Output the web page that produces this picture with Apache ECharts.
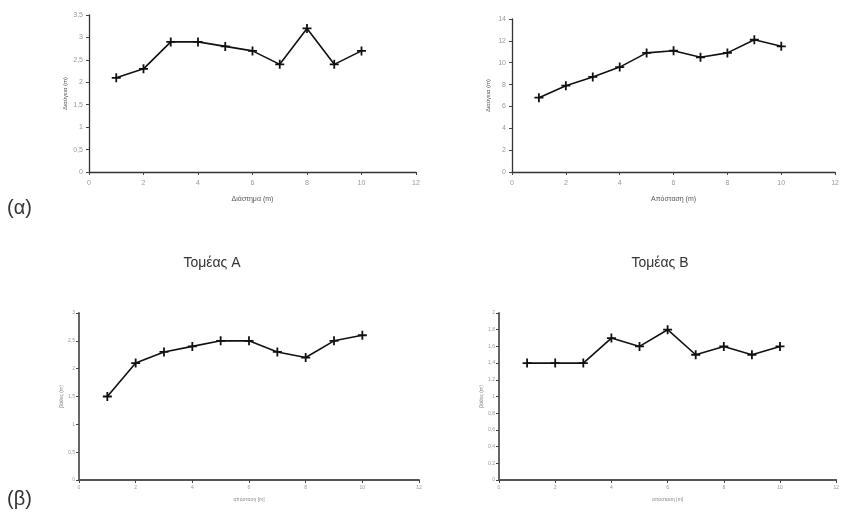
<!DOCTYPE html>
<html>
<head>
<meta charset="utf-8">
<script src="https://cdn.jsdelivr.net/npm/echarts@6/dist/echarts.min.js"></script>
<style>
  html, body { margin: 0; padding: 0; background: #fff; }
  #chart { width: 842px; height: 518px; }
</style>
</head>
<body>
<div id="chart"></div>
<script>
// Distance stations along the transect (m)
const distances = [1, 2, 3, 4, 5, 6, 7, 8, 9, 10];

// (α) Sector A and Sector B
const sectorA_top = [2.1, 2.3, 2.9, 2.9, 2.8, 2.7, 2.4, 3.2, 2.4, 2.7];
const sectorB_top = [6.8, 7.9, 8.7, 9.6, 10.9, 11.1, 10.5, 10.9, 12.1, 11.5];

// (β) Sector A and Sector B
const sectorA_bottom = [1.5, 2.1, 2.3, 2.4, 2.5, 2.5, 2.3, 2.2, 2.5, 2.6];
const sectorB_bottom = [1.4, 1.4, 1.4, 1.7, 1.6, 1.8, 1.5, 1.6, 1.5, 1.6];

// Axis settings per panel
const yMax = [3.5, 14, 3, 2];
const yStep = [0.5, 2, 0.5, 0.2];
const xMax = 12;
const xStep = 2;

// Axis titles
const xNames = ['Διάστημα (m)', 'Απόσταση (m)', 'απόσταση [m]', 'απόσταση [m]'];
const yNames = ['Διαύγεια (m)', 'Διαύγεια (m)', 'βάθος (m)', 'βάθος (m)'];

// Labels
const panelLabels = ['(α)', '(β)'];
const sectorLabels = ['Τομέας Α', 'Τομέας Β'];

const seriesData = [sectorA_top, sectorB_top, sectorA_bottom, sectorB_bottom];

const grids = [
  { left: 89, top: 15, width: 327, height: 157 },
  { left: 512, top: 19, width: 329, height: 153 },
  { left: 79, top: 313, width: 340, height: 167 },
  { left: 499, top: 313, width: 340, height: 167 }
];

const comma = v => String(Math.round(v * 10) / 10).replace('.', ',');
const plus = 'path://M4,0H6V4H10V6H6V10H4V6H0V4H4Z';

const isTop = i => i < 2;

const option = {
  animation: false,
  backgroundColor: '#fff',
  grid: grids.map(g => Object.assign({ containLabel: false }, g)),
  xAxis: grids.map((g, i) => ({
    type: 'value',
    gridIndex: i,
    min: 0,
    max: xMax,
    interval: xStep,
    name: xNames[i],
    nameLocation: 'middle',
    nameGap: isTop(i) ? 24 : 17,
    nameTextStyle: { fontSize: isTop(i) ? 7 : 5, color: isTop(i) ? '#555' : '#888', fontFamily: 'Liberation Sans' },
    splitLine: { show: false },
    axisLine: { lineStyle: { color: isTop(i) ? '#333' : '#555', width: isTop(i) ? 1.3 : 1.8 } },
    axisTick: { show: true, length: 3, lineStyle: { color: '#444' } },
    axisLabel: { fontSize: isTop(i) ? 7 : 5, color: '#999', margin: isTop(i) ? 8 : 5, fontFamily: 'Liberation Sans' }
  })),
  yAxis: grids.map((g, i) => ({
    type: 'value',
    gridIndex: i,
    min: 0,
    max: yMax[i],
    interval: yStep[i],
    name: yNames[i],
    nameLocation: 'middle',
    nameRotate: 90,
    nameGap: isTop(i) ? 21 : 14,
    nameTextStyle: { fontSize: isTop(i) ? 6 : 5, color: isTop(i) ? '#555' : '#888', fontFamily: 'Liberation Sans' },
    splitLine: { show: false },
    axisLine: { show: true, lineStyle: { color: isTop(i) ? '#333' : '#555', width: isTop(i) ? 1.3 : 1.8 } },
    axisTick: { show: true, length: 3, lineStyle: { color: '#444' } },
    axisLabel: { fontSize: isTop(i) ? 7 : 5, color: '#999', margin: isTop(i) ? 6 : 4, formatter: comma, fontFamily: 'Liberation Sans' }
  })),
  series: seriesData.map((vals, i) => ({
    type: 'line',
    xAxisIndex: i,
    yAxisIndex: i,
    data: distances.map((d, k) => [d, vals[k]]),
    symbol: plus,
    symbolSize: 9,
    showAllSymbol: true,
    lineStyle: { color: '#111', width: 1.6 },
    itemStyle: { color: '#111' }
  })),
  graphic: [
    { type: 'text', left: 7, top: 198, style: { text: panelLabels[0], font: '20px "Liberation Sans"', fill: '#333' } },
    { type: 'text', left: 7, top: 489, style: { text: panelLabels[1], font: '20px "Liberation Sans"', fill: '#333' } },
    { type: 'text', x: 212, y: 263, style: { text: sectorLabels[0], font: '14px "Liberation Sans"', fill: '#333', align: 'center', verticalAlign: 'middle' } },
    { type: 'text', x: 660, y: 263, style: { text: sectorLabels[1], font: '14px "Liberation Sans"', fill: '#333', align: 'center', verticalAlign: 'middle' } }
  ]
};

const chart = echarts.init(document.getElementById('chart'), null, { renderer: 'canvas' });
chart.setOption(option);
</script>
</body>
</html>
